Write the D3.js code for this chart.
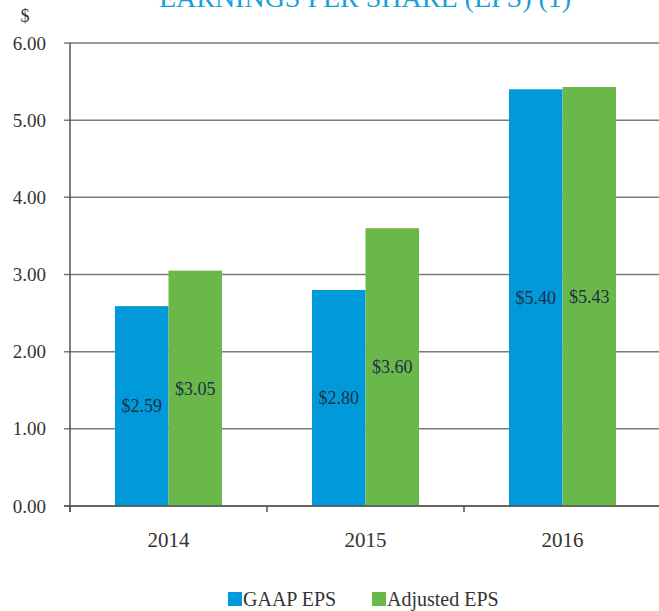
<!DOCTYPE html>
<html>
<head>
<meta charset="utf-8">
<script src="https://cdn.jsdelivr.net/npm/d3@7"></script>
</head>
<body style="margin:0; background:#fff">
<div class="viz"></div>
<script>
const years = ["2014", "2015", "2016"];
const series = ["GAAP EPS", "Adjusted EPS"];
const gaapEps = [2.59, 2.80, 5.40];
const adjustedEps = [3.05, 3.60, 5.43];
const yTicks = [0, 1, 2, 3, 4, 5, 6];

const width = 659, height = 611;
const margin = { top: 43, right: -2, bottom: 105, left: 70 };
const colors = ["#0099da", "#6bb84a"];
const serif = "'Liberation Serif'";

const svg = d3.select(".viz").append("svg")
  .attr("width", width)
  .attr("height", height)
  .style("display", "block");

// title, cut off by the top of the picture like in the source
svg.append("text")
  .attr("x", 365)
  .attr("y", 7)
  .attr("text-anchor", "middle")
  .attr("font-family", serif)
  .attr("font-size", 28)
  .attr("fill", "#1a9fd8")
  .text("EARNINGS PER SHARE (EPS) (1)");

const x0 = d3.scaleBand()
  .domain(years)
  .range([margin.left, width - margin.right])
  .padding(0);

const x1 = d3.scaleBand()
  .domain(series)
  .range([0, x0.bandwidth()])
  .paddingInner(0)
  .paddingOuter(0.84);

const y = d3.scaleLinear()
  .domain([0, 6])
  .range([height - margin.bottom, margin.top]);

// gridlines
svg.append("g")
  .selectAll("line")
  .data(yTicks)
  .join("line")
  .attr("x1", margin.left - 6)
  .attr("x2", width)
  .attr("y1", d => y(d))
  .attr("y2", d => y(d))
  .attr("stroke", "#7a7a7a")
  .attr("stroke-width", 1.5);

// y tick labels
svg.append("g")
  .selectAll("text")
  .data(yTicks)
  .join("text")
  .attr("x", 46)
  .attr("y", d => y(d))
  .attr("dy", "0.35em")
  .attr("text-anchor", "end")
  .attr("font-family", serif)
  .attr("font-size", 19)
  .attr("fill", "#333")
  .text(d => d3.format(".2f")(d));

svg.append("text")
  .attr("x", 25)
  .attr("y", 16)
  .attr("dy", "0.35em")
  .attr("text-anchor", "middle")
  .attr("font-family", serif)
  .attr("font-size", 18)
  .attr("fill", "#333")
  .text("$");

const data = years.map((yr, i) => ({ year: yr, values: [gaapEps[i], adjustedEps[i]] }));

const groups = svg.append("g")
  .selectAll("g")
  .data(data)
  .join("g")
  .attr("transform", d => `translate(${x0(d.year)},0)`);

groups.selectAll("rect")
  .data(d => d.values.map((v, i) => ({ key: series[i], value: v, i })))
  .join("rect")
  .attr("x", d => x1(d.key))
  .attr("y", d => y(d.value))
  .attr("width", x1.bandwidth())
  .attr("height", d => y(0) - y(d.value))
  .attr("fill", d => colors[d.i]);

groups.selectAll("text")
  .data(d => d.values.map((v, i) => ({ key: series[i], value: v, i })))
  .join("text")
  .attr("x", d => x1(d.key) + x1.bandwidth() / 2)
  .attr("y", d => y(d.value / 2))
  .attr("dy", "0.35em")
  .attr("text-anchor", "middle")
  .attr("font-family", serif)
  .attr("font-size", 18)
  .attr("fill", "#1c3047")
  .text(d => "$" + d3.format(".2f")(d.value));

// axis lines
svg.append("line")
  .attr("x1", margin.left).attr("x2", margin.left)
  .attr("y1", y(6)).attr("y2", y(0) + 6)
  .attr("stroke", "#555").attr("stroke-width", 1.5);

svg.append("line")
  .attr("x1", margin.left - 6).attr("x2", width)
  .attr("y1", y(0)).attr("y2", y(0))
  .attr("stroke", "#555").attr("stroke-width", 1.5);

// x ticks sit on the category boundaries
svg.append("g")
  .selectAll("line")
  .data(years)
  .join("line")
  .attr("x1", d => x0(d)).attr("x2", d => x0(d))
  .attr("y1", y(0)).attr("y2", y(0) + 6)
  .attr("stroke", "#555").attr("stroke-width", 1.5);

svg.append("g")
  .selectAll("text")
  .data(years)
  .join("text")
  .attr("x", d => x0(d) + x0.bandwidth() / 2)
  .attr("y", 540)
  .attr("dy", "0.35em")
  .attr("text-anchor", "middle")
  .attr("font-family", serif)
  .attr("font-size", 21)
  .attr("fill", "#333")
  .text(d => d);

// legend
const legendX = [228, 372];
const legend = svg.append("g")
  .selectAll("g")
  .data(series)
  .join("g")
  .attr("transform", (d, i) => `translate(${legendX[i]},592)`);

legend.append("rect")
  .attr("width", 14)
  .attr("height", 14)
  .attr("fill", (d, i) => colors[i]);

legend.append("text")
  .attr("x", 15)
  .attr("y", 7)
  .attr("dy", "0.35em")
  .attr("font-family", serif)
  .attr("font-size", 20)
  .attr("fill", "#333")
  .text(d => d);
</script>
</body>
</html>
